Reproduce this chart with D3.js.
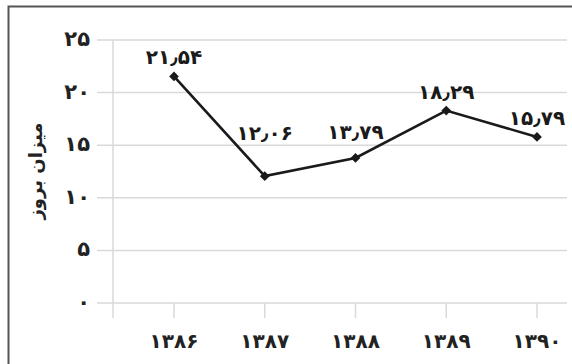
<!DOCTYPE html>
<html>
<head>
<meta charset="utf-8">
<script src="https://cdn.jsdelivr.net/npm/d3@7"></script>
<style>
  body { margin: 0; background: #fff; }
  text { font-family: "DejaVu Sans", sans-serif; }
</style>
</head>
<body>
<svg id="chart"></svg>
<script>
// data
var years = ["۱۳۸۶", "۱۳۸۷", "۱۳۸۸", "۱۳۸۹", "۱۳۹۰"];
var values = [21.54, 12.06, 13.79, 18.29, 15.79];
var valueLabels = ["۲۱٫۵۴", "۱۲٫۰۶", "۱۳٫۷۹", "۱۸٫۲۹", "۱۵٫۷۹"];
var yTicks = [0, 5, 10, 15, 20, 25];
var yTickLabels = ["۰", "۵", "۱۰", "۱۵", "۲۰", "۲۵"];
var yTitle = "میزان بروز";

var width = 572, height = 364;
var svg = d3.select("#chart").attr("width", width).attr("height", height);

// frame (only top and left are visible)
svg.append("path")
  .attr("d", "M8.5,420 V6.5 H600")
  .style("fill", "none")
  .style("stroke", "#555")
  .style("stroke-width", 2);

var plotLeft = 113, plotRight = 567, plotTop = 40, plotBottom = 303;

var x = d3.scalePoint()
  .domain(years)
  .range([174, 537]);

var y = d3.scaleLinear()
  .domain([0, 25])
  .range([plotBottom, plotTop]);

// gridlines
svg.selectAll(".grid")
  .data(yTicks)
  .enter().append("line")
  .attr("class", "grid")
  .attr("x1", 97)
  .attr("x2", plotRight)
  .attr("y1", function(d){ return y(d); })
  .attr("y2", function(d){ return y(d); })
  .style("stroke", "#d9d9d9")
  .style("stroke-width", 1.5);

// vertical axis line
svg.append("line")
  .attr("x1", plotLeft).attr("x2", plotLeft)
  .attr("y1", plotTop).attr("y2", plotBottom + 15)
  .style("stroke", "#d9d9d9")
  .style("stroke-width", 1.5);

// x ticks
svg.selectAll(".xtick")
  .data(years)
  .enter().append("line")
  .attr("class", "xtick")
  .attr("x1", function(d){ return x(d); })
  .attr("x2", function(d){ return x(d); })
  .attr("y1", plotBottom)
  .attr("y2", plotBottom + 15)
  .style("stroke", "#d9d9d9")
  .style("stroke-width", 1.5);

// y tick labels
svg.selectAll(".ylab")
  .data(yTicks)
  .enter().append("text")
  .attr("class", "ylab")
  .attr("x", 90)
  .attr("y", function(d){ return y(d) + 6; })
  .attr("text-anchor", "end")
  .style("font-size", "21px")
  .style("font-weight", "bold")
  .style("fill", "#222")
  .text(function(d, i){ return yTickLabels[i]; });

// x tick labels
svg.selectAll(".xlab")
  .data(years)
  .enter().append("text")
  .attr("class", "xlab")
  .attr("x", function(d){ return x(d); })
  .attr("y", 348)
  .attr("text-anchor", "middle")
  .style("font-size", "20px")
  .style("font-weight", "bold")
  .style("fill", "#222")
  .text(function(d){ return d; });

// y title
svg.append("text")
  .attr("transform", "translate(42,171) rotate(-90)")
  .attr("text-anchor", "middle")
  .style("font-size", "18px")
  .style("font-weight", "bold")
  .style("fill", "#222")
  .text(yTitle);

// line
var line = d3.line()
  .x(function(d, i){ return x(years[i]); })
  .y(function(d){ return y(d); });

svg.append("path")
  .datum(values)
  .attr("d", line)
  .style("fill", "none")
  .style("stroke", "#1a1a1a")
  .style("stroke-width", 2.6);

// diamond markers
svg.selectAll(".marker")
  .data(values)
  .enter().append("path")
  .attr("class", "marker")
  .attr("d", d3.symbol().type(d3.symbolDiamond2).size(60))
  .attr("transform", function(d, i){ return "translate(" + x(years[i]) + "," + y(d) + ")"; })
  .style("fill", "#1a1a1a");

// value labels: keep them clear of the line under them
var halfLabel = 30;
function labelY(d, i) {
  var top = y(d) - 12;
  var step = x.step();
  if (i > 0) {
    var yl = y(d) + (y(values[i-1]) - y(d)) * halfLabel / step;
    top = Math.min(top, yl - 3);
  }
  if (i < values.length - 1) {
    var yr = y(d) + (y(values[i+1]) - y(d)) * halfLabel / step;
    top = Math.min(top, yr - 3);
  }
  return top;
}

svg.selectAll(".vlab")
  .data(values)
  .enter().append("text")
  .attr("class", "vlab")
  .attr("x", function(d, i){ return x(years[i]); })
  .attr("y", labelY)
  .attr("text-anchor", "middle")
  .style("font-size", "20px")
  .style("font-weight", "bold")
  .style("fill", "#1a1a1a")
  .text(function(d, i){ return valueLabels[i]; });
</script>
</body>
</html>
